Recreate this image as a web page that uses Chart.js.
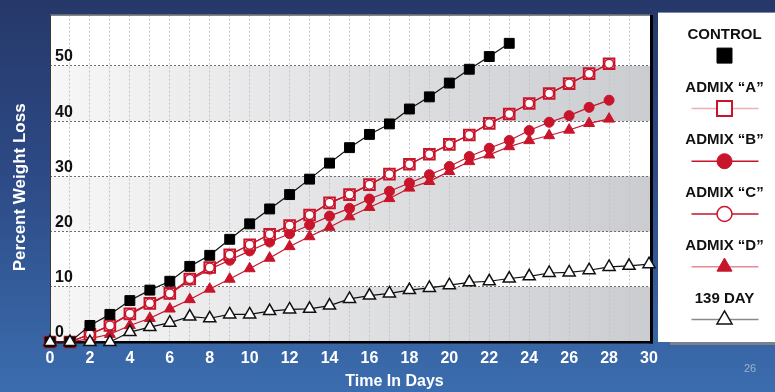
<!DOCTYPE html>
<html>
<head>
<meta charset="utf-8">
<script src="https://cdn.jsdelivr.net/npm/chart.js@4.4.1/dist/chart.umd.min.js"></script>
<style>
  html, body { margin: 0; padding: 0; }
  body {
    width: 775px; height: 392px; overflow: hidden;
    background: linear-gradient(180deg, #263869 0%, #2d4a86 45%, #3b6dae 100%);
  }
  #wrap { position: relative; width: 775px; height: 392px; }
</style>
</head>
<body>
<div id="wrap"><canvas id="c" width="775" height="392"></canvas></div>
<script>
// Time axis (days) and percent weight loss per mix
const days = [0,1,2,3,4,5,6,7,8,9,10,11,12,13,14,15,16,17,18,19,20,21,22,23,24,25,26,27,28,29,30];
const control = [0,0,3.0,5.0,7.5,9.4,11.0,13.7,15.7,18.6,21.4,24.1,26.7,29.5,32.4,35.2,37.6,39.5,42.2,44.4,46.9,49.4,51.7,54.1];
const admixA  = [0,0,1.4,3.0,5.1,7.0,8.8,11.4,13.5,15.8,17.6,19.5,21.1,23.0,25.2,26.7,28.5,30.4,32.2,34.0,35.8,37.5,39.6,41.3,43.2,45.0,46.8,48.6,50.4];
const admixB  = [0,0,1.4,3.0,5.0,6.9,8.7,11.2,13.2,14.8,16.5,18.1,19.6,21.2,22.8,24.2,25.9,27.3,28.8,30.3,31.8,33.6,35.1,36.5,38.3,39.8,41.0,42.5,43.8];
const admixC  = [0,0,1.4,3.0,5.1,7.0,8.8,11.4,13.5,15.8,17.6,19.5,21.1,23.0,25.2,26.7,28.5,30.4,32.2,34.0,35.8,37.5,39.6,41.3,43.2,45.0,46.8,48.6,50.4];
const admixD  = [0,0,0.6,1.4,3.0,4.3,6.0,7.7,9.6,11.4,13.3,15.2,17.3,19.1,20.8,22.7,24.4,26.0,27.9,29.1,30.9,32.7,33.9,35.4,36.5,37.4,38.4,39.6,40.4];
const day139  = [0,0,0,0,1.8,2.7,3.5,4.6,4.3,5.0,5.0,5.6,5.9,6.0,6.6,7.8,8.4,8.8,9.4,9.8,10.3,10.8,11.0,11.5,11.9,12.5,12.6,13.0,13.6,13.8,14.1];
const yTickValues = [0,10,20,30,40,50];
const shadedBands = [[0,10],[20,30],[40,50]];

const RED = '#c8152c';
const FONT = '"Liberation Sans", Arial, sans-serif';

const toPoints = vals => vals.map((v, i) => ({ x: days[i], y: v }));

// Plot background: white with shaded horizontal bands, then the frame
const plotDecor = {
  id: 'plotDecor',
  beforeDraw(chart) {
    const { ctx, chartArea: a, scales: { y } } = chart;
    ctx.save();
    ctx.fillStyle = '#ffffff';
    ctx.fillRect(a.left, a.top, a.width, a.height);
    const g = ctx.createLinearGradient(a.left, 0, a.right, 0);
    g.addColorStop(0, '#f7f7f7');
    g.addColorStop(1, '#cbccd0');
    ctx.fillStyle = g;
    shadedBands.forEach(([lo, hi]) => {
      const top = y.getPixelForValue(hi);
      const bot = y.getPixelForValue(lo);
      ctx.fillRect(a.left, top, a.width, bot - top);
    });
    ctx.restore();
  },
  beforeDatasetsDraw(chart) {
    const { ctx, chartArea: a } = chart;
    ctx.save();
    ctx.strokeStyle = '#3a3a3a';
    ctx.lineWidth = 1;
    ctx.strokeRect(a.left + 0.5, a.top + 0.5, a.width - 1, a.height - 1);
    ctx.fillStyle = '#000';
    ctx.fillRect(a.left, a.bottom - 1, a.width, 2.5);
    ctx.fillRect(a.right - 3, a.top, 3, a.height + 1.5);
    ctx.restore();
  }
};

// Axis titles, side legend panel and page number
const annotations = {
  id: 'annotations',
  afterDraw(chart) {
    const { ctx, chartArea: a } = chart;
    ctx.save();
    ctx.fillStyle = '#ffffff';
    ctx.font = 'bold 16px ' + FONT;
    ctx.textAlign = 'center';
    ctx.textBaseline = 'middle';
    ctx.fillText('Time In Days', (a.left + a.right) / 2 + 43, 382);
    ctx.save();
    ctx.translate(20, (a.top + a.bottom) / 2 + 9);
    ctx.rotate(-Math.PI / 2);
    ctx.font = 'bold 17px ' + FONT;
    ctx.fillText('Percent Weight Loss', 0, 0);
    ctx.restore();

    ctx.fillStyle = '#9fb2cf';
    ctx.font = '11px ' + FONT;
    ctx.fillText('26', 750, 369);

    // legend panel
    const px = 658, pw = 775 - 658, py = a.top - 2, ph = a.bottom - py;
    ctx.fillStyle = '#7c828c';
    ctx.fillRect(px + 12, py + ph, pw - 12, 3);
    ctx.fillStyle = '#ffffff';
    ctx.fillRect(px, py, pw, ph);
    const cx = px + pw / 2 + 8;
    chart.data.datasets.forEach((ds, i) => {
      const ty = py + 22 + i * 52.8;
      const my = ty + 21;
      ctx.fillStyle = '#111';
      ctx.font = 'bold 15px ' + FONT;
      ctx.textAlign = 'center';
      ctx.textBaseline = 'middle';
      ctx.fillText(ds.label, cx, ty);
      if (ds.legendLine) {
        ctx.strokeStyle = ds.legendLine;
        ctx.lineWidth = 1.5;
        ctx.beginPath();
        ctx.moveTo(cx - 33, my);
        ctx.lineTo(cx + 34, my);
        ctx.stroke();
      }
      ctx.fillStyle = ds.pointBackgroundColor;
      ctx.strokeStyle = ds.pointBorderColor;
      ctx.lineWidth = ds.pointBorderWidth;
      Chart.helpers.drawPoint(ctx, {
        pointStyle: ds.pointStyle,
        radius: ds.legendRadius,
        rotation: 0,
        borderWidth: ds.pointBorderWidth
      }, cx, my);
    });
    ctx.restore();
  }
};

const datasets = [
  {
    label: 'CONTROL', data: toPoints(control), order: 0,
    borderColor: '#111', borderWidth: 1.2,
    pointStyle: 'rect', pointRadius: 7, legendRadius: 10.6,
    pointBackgroundColor: '#000', pointBorderColor: '#000', pointBorderWidth: 1
  },
  {
    label: 'ADMIX \u201CA\u201D', data: toPoints(admixA), order: 2,
    borderColor: RED, borderWidth: 1.2, legendLine: '#eeb0b8',
    pointStyle: 'rect', pointRadius: 7.5, legendRadius: 10.6,
    pointBackgroundColor: '#fff', pointBorderColor: RED, pointBorderWidth: 2
  },
  {
    label: 'ADMIX \u201CB\u201D', data: toPoints(admixB), order: 3,
    borderColor: RED, borderWidth: 1.2, legendLine: RED,
    pointStyle: 'circle', pointRadius: 5, legendRadius: 7.5,
    pointBackgroundColor: RED, pointBorderColor: RED, pointBorderWidth: 1
  },
  {
    label: 'ADMIX \u201CC\u201D', data: toPoints(admixC), order: 1,
    borderColor: RED, borderWidth: 1.2, legendLine: RED,
    pointStyle: 'circle', pointRadius: 4.5, legendRadius: 7.5,
    pointBackgroundColor: '#fff', pointBorderColor: RED, pointBorderWidth: 1.5
  },
  {
    label: 'ADMIX \u201CD\u201D', data: toPoints(admixD), order: 4,
    borderColor: RED, borderWidth: 1.2, legendLine: '#e48c96',
    pointStyle: 'triangle', pointRadius: 6.3, legendRadius: 8.7,
    pointBackgroundColor: RED, pointBorderColor: RED, pointBorderWidth: 1
  },
  {
    label: '139 DAY', data: toPoints(day139), order: -1,
    borderColor: '#111', borderWidth: 1.2, legendLine: '#8a8a8a',
    pointStyle: 'triangle', pointRadius: 7, legendRadius: 8.7,
    pointBackgroundColor: '#fff', pointBorderColor: '#111', pointBorderWidth: 1.5
  }
];
datasets.forEach(ds => { ds.clip = false; ds.tension = 0; ds.pointHoverRadius = ds.pointRadius; });

new Chart(document.getElementById('c'), {
  type: 'line',
  data: { datasets },
  plugins: [plotDecor, annotations],
  options: {
    responsive: false,
    animation: false,
    events: [],
    layout: { padding: { left: 50, top: 9, right: 122, bottom: 26 } },
    plugins: { legend: { display: false }, tooltip: { enabled: false } },
    scales: {
      x: {
        type: 'linear', min: 0, max: 30.2,
        afterBuildTicks: s => { s.ticks = days.map(v => ({ value: v })); },
        afterFit: s => { s.height = 24; },
        border: { display: false, dash: [2, 2] },
        grid: {
          drawTicks: false,
          lineWidth: 1,
          color: c => (c.tick && c.tick.value > 0 && c.tick.value < 30) ? '#c2c2c2' : 'rgba(0,0,0,0)'
        },
        ticks: {
          autoSkip: false, maxRotation: 0, padding: 7,
          color: '#ffffff',
          font: { family: FONT, size: 16, weight: 'bold' },
          callback: v => (v % 2 === 0 ? String(v) : '')
        }
      },
      y: {
        min: 0, max: 59.3,
        afterBuildTicks: s => { s.ticks = yTickValues.map(v => ({ value: v })); },
        afterFit: s => { s.width = 0; },
        border: { display: false, dash: [2, 2] },
        grid: {
          drawTicks: false,
          lineWidth: 1,
          color: c => (c.tick && c.tick.value > 0) ? '#6e6e6e' : 'rgba(0,0,0,0)'
        },
        ticks: {
          mirror: true, padding: 5, labelOffset: -9,
          color: '#111',
          font: { family: FONT, size: 16, weight: 'bold' }
        }
      }
    }
  }
});
</script>
</body>
</html>
